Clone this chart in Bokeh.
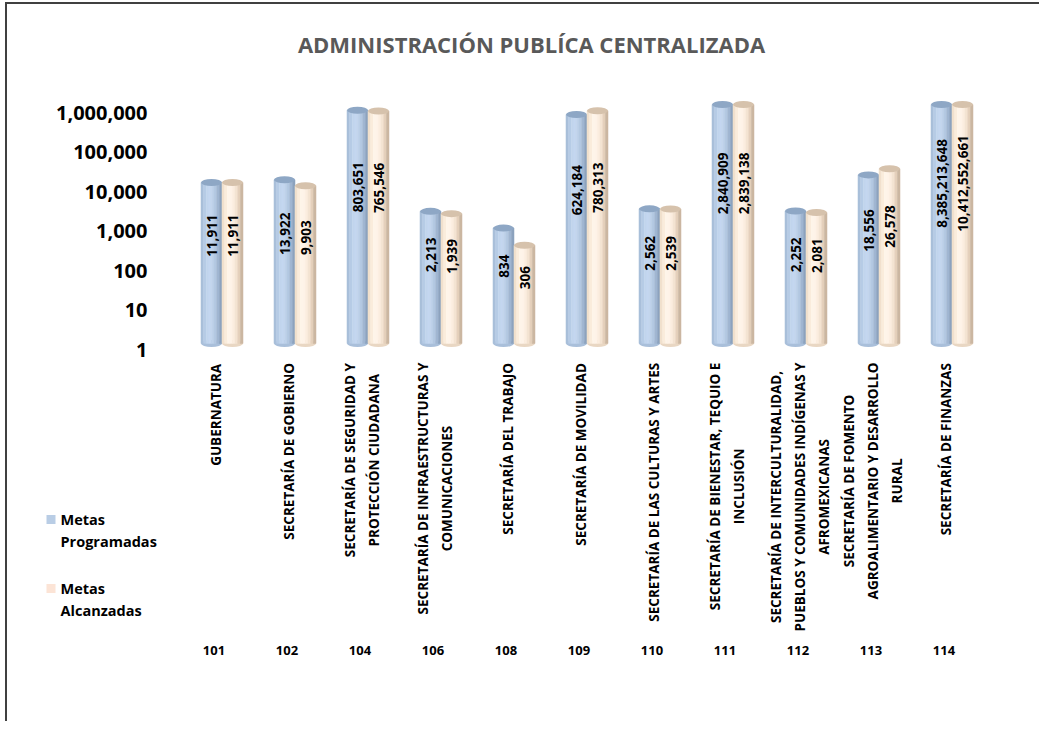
import math
from bokeh.plotting import figure
from bokeh.layouts import column
from bokeh.models import (Range1d, LogScale, LinearScale, FixedTicker, NumeralTickFormatter,
                          InlineStyleSheet)
from bokeh.core.properties import value
from bokeh.embed import file_html
from bokeh.resources import INLINE

# ---------------- data ----------------
TITLE = "ADMINISTRACIÓN PUBLÍCA CENTRALIZADA"
codes = ["101", "102", "104", "106", "108", "109", "110", "111", "112", "113", "114"]
names = [
    "GUBERNATURA",
    "SECRETARÍA DE GOBIERNO",
    "SECRETARÍA DE SEGURIDAD Y\nPROTECCIÓN CIUDADANA",
    "SECRETARÍA DE INFRAESTRUCTURAS Y\nCOMUNICACIONES",
    "SECRETARÍA DEL TRABAJO",
    "SECRETARÍA DE MOVILIDAD",
    "SECRETARÍA DE LAS CULTURAS Y ARTES",
    "SECRETARÍA DE BIENESTAR, TEQUIO E\nINCLUSIÓN",
    "SECRETARÍA DE INTERCULTURALIDAD,\nPUEBLOS Y COMUNIDADES INDÍGENAS Y\nAFROMEXICANAS",
    "SECRETARÍA DE FOMENTO\nAGROALIMENTARIO Y DESARROLLO\nRURAL",
    "SECRETARÍA DE FINANZAS",
]
metas_programadas = [11911, 13922, 803651, 2213, 834, 624184, 2562, 2840909, 2252, 18556, 8385213648]
metas_alcanzadas = [11911, 9903, 765546, 1939, 306, 780313, 2539, 2839138, 2081, 26578, 10412552661]
legend_lines = [["Metas", "Programadas"], ["Metas", "Alcanzadas"]]
y_ticks = [1, 10, 100, 1000, 10000, 100000, 1000000]

# ---------------- styles / layout ----------------
FONT = "Open Sans"
OX, OY = 7, 4                   # page position of the top canvas' corner
W = 1034
CAT_PX = 73.0
FL = 178
FRAME_W = CAT_PX * len(codes)
FR = int(W - FL - FRAME_W)
FRAME_H, FB_TOP = 345, 14
H_TOP = FRAME_H + FB_TOP
H_BOT = 360
PX_DEC = 39.5                   # pixels per decade
SHIFT = 6                       # 3-D floor lift of the cylinders, px
CAP = 1.12e6                    # axis ceiling the cylinders are cut at
BAR_W = 21 / CAT_PX
NSTRIP = 8
blue_strips = ["#A9BFDA", "#B7CBE5", "#C1D4ED", "#C4D7EF", "#BED1EA", "#B2C7E1", "#A1B7D2", "#8CA2BE"]
beige_strips = ["#F1E0CD", "#FAECDC", "#FEF4E9", "#FEF3E8", "#FBEDDF", "#F4E3D1", "#E5D1BC", "#CBB7A1"]
top_colors = ["#8EA7C5", "#D6C2AC"]
base_colors = ["#A9BFDA", "#E9D7C3"]
legend_colors = ["#B9CDE5", "#FCE4D6"]
BORDER = "2px solid #404040"

series = [metas_programadas, metas_alcanzadas]
strip_sets = [blue_strips, beige_strips]
offsets = [-BAR_W / 2, BAR_W / 2]

# ================= top figure: cylinders + axis + title =================
p = figure(width=W, height=H_TOP, y_axis_type="log",
           x_range=Range1d(-0.5, len(codes) - 0.5),
           y_range=Range1d(1, 10 ** (FRAME_H / PX_DEC)),
           x_axis_location=None, title=None,
           output_backend="svg", toolbar_location=None,
           min_border_left=FL, min_border_right=FR,
           min_border_top=0, min_border_bottom=FB_TOP)
p.frame_align = False
p.extra_y_ranges = {"bars": Range1d(10 ** (-SHIFT / PX_DEC), 10 ** ((FRAME_H - SHIFT) / PX_DEC)),
                    "px": Range1d(FRAME_H, 0)}
p.extra_y_scales = {"bars": LogScale(), "px": LinearScale()}
p.extra_x_ranges = {"px": Range1d(0, FRAME_W)}
p.extra_x_scales = {"px": LinearScale()}
p.outline_line_color = None
p.xgrid.visible = False
p.ygrid.visible = False
p.background_fill_color = "white"
p.border_fill_color = "white"
p.stylesheets = [InlineStyleSheet(css=(
    f":host {{ border-left: {BORDER} !important; border-top: {BORDER} !important; "
    f"margin-left: {OX - 2}px !important; margin-top: {OY - 2}px !important; }}"))]

ax = p.yaxis[0]
ax.ticker = FixedTicker(ticks=y_ticks, minor_ticks=[])
ax.formatter = NumeralTickFormatter(format="0,0")
ax.axis_line_color = None
ax.major_tick_line_color = None
ax.minor_tick_line_color = None
ax.major_label_standoff = 32
ax.major_label_text_font = FONT
ax.major_label_text_font_size = "20px"
ax.major_label_text_font_style = "bold"
ax.major_label_text_color = "black"

for s, vals in enumerate(series):
    xs, tops, cols = [], [], []
    cx, cy, ly, lt = [], [], [], []
    for i, v in enumerate(vals):
        top = min(v, CAP)
        c = i + offsets[s]
        for k in range(NSTRIP):
            xs.append(c - BAR_W / 2 + (k + 0.5) * BAR_W / NSTRIP)
            tops.append(top)
            cols.append(strip_sets[s][k])
        cx.append(c)
        cy.append(top)
        ly.append(10 ** (0.67 * math.log10(top)))
        lt.append(f"{v:,}")
    p.ellipse(x=cx, y=[1] * len(cx), width=BAR_W, height=7, height_units="screen",
              fill_color=base_colors[s], line_color=None, y_range_name="bars")
    p.vbar(x=xs, top=tops, bottom=1, width=BAR_W / NSTRIP * 1.04, fill_color=cols,
           line_color=cols, line_width=0.4, y_range_name="bars")
    p.ellipse(x=cx, y=cy, width=BAR_W, height=7, height_units="screen",
              fill_color=top_colors[s], line_color=None, y_range_name="bars")
    p.text(x=cx, y=ly, text=lt, angle=math.pi / 2, text_font=value(FONT),
           text_font_size="13.5px", text_font_style="bold", text_color="black",
           text_align="center", text_baseline="middle", y_range_name="bars")

# title (pixel coordinates inside the frame)
p.text(x=[531 - OX - FL], y=[43 - OY], text=[TITLE], x_range_name="px", y_range_name="px",
       text_font=value(FONT), text_font_size="22px", text_font_style="bold",
       text_color="#595959", text_align="center", text_baseline="middle")

# ================= bottom figure: category labels, codes, legend =================
X0 = -0.5 - FL / CAT_PX
q = figure(width=W, height=H_BOT, x_range=Range1d(X0, X0 + W / CAT_PX),
           y_range=Range1d(H_BOT, 0), x_axis_location=None, y_axis_location=None,
           title=None, output_backend="svg", toolbar_location=None,
           min_border_left=0, min_border_right=0, min_border_top=0, min_border_bottom=0)
q.frame_align = False
q.extra_x_ranges = {"px": Range1d(0, W)}
q.extra_x_scales = {"px": LinearScale()}
q.outline_line_color = None
q.xgrid.visible = False
q.ygrid.visible = False
q.background_fill_color = "white"
q.border_fill_color = "white"
q.stylesheets = [InlineStyleSheet(css=(
    f":host {{ border-left: {BORDER} !important; margin-left: {OX - 2}px !important; }}"))]

# approximate advance widths (em) of Open Sans Bold capitals
CW = dict(A=.69, B=.664, C=.61, D=.72, E=.536, F=.518, G=.706, H=.765, I=.345, J=.3,
          K=.628, L=.538, M=.917, N=.788, O=.78, P=.625, Q=.78, R=.65, S=.557, T=.568,
          U=.758, V=.651, W=.995, X=.658, Y=.616, Z=.575)
CW.update({" ": .26, ",": .29, "Á": .69, "É": .536, "Í": .345, "Ó": .78, "Ú": .758})


def est_width(line, size):
    return sum(CW.get(ch, .65) for ch in line) * size


CAT_SIZE = 13.5
cat_x = list(range(len(names)))
cat_y = [3 + max(est_width(ln, CAT_SIZE) for ln in n.split("\n")) / 2 for n in names]
q.text(x=cat_x, y=cat_y, text=names, angle=math.pi / 2, x_offset=-6,
       text_font=value(FONT), text_font_size=f"{CAT_SIZE}px", text_font_style="bold",
       text_color="black", text_align="center", text_baseline="middle",
       text_line_height=1.33)
BOT_Y0 = OY + H_TOP             # page y of the bottom canvas
q.text(x=cat_x, y=[652 - BOT_Y0] * len(codes), text=codes, x_offset=-8,
       text_font=value(FONT), text_font_size="13px", text_font_style="bold",
       text_color="black", text_align="center", text_baseline="middle")

# legend (pixel coordinates)
leg_y = [521 - BOT_Y0, 590 - BOT_Y0]
q.scatter(x=[50.5 - OX] * 2, y=leg_y, marker="square", size=9, fill_color=legend_colors,
          line_color=None, x_range_name="px")
lx, lyy, ltx = [], [], []
for j, lines in enumerate(legend_lines):
    for n, t in enumerate(lines):
        lx.append(60 - OX)
        lyy.append(leg_y[j] + 22 * n)
        ltx.append(t)
q.text(x=lx, y=lyy, text=ltx, x_range_name="px",
       text_font=value(FONT), text_font_size="14.5px", text_font_style="bold",
       text_color="black", text_align="left", text_baseline="middle")

layout = column(p, q, spacing=0)
open("out.html", "w").write(file_html(layout, INLINE))
